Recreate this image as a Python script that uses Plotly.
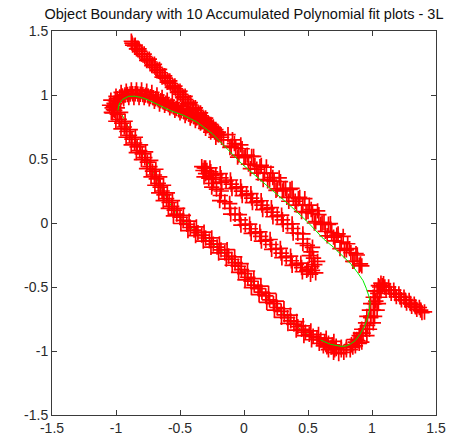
import plotly.graph_objects as go

# Boundary samples (x, y) grouped by the part of the outline they trace
tail_pts = [(-0.88, 1.42), (-0.87, 1.39), (-0.85, 1.39), (-0.84, 1.36), (-0.82, 1.36), (-0.80, 1.32),
            (-0.78, 1.32), (-0.76, 1.27), (-0.74, 1.28), (-0.72, 1.23), (-0.70, 1.24), (-0.68, 1.19),
            (-0.66, 1.20), (-0.64, 1.14), (-0.62, 1.15), (-0.60, 1.10), (-0.58, 1.11), (-0.56, 1.06),
            (-0.54, 1.07), (-0.52, 1.02), (-0.50, 1.03), (-0.48, 0.98), (-0.46, 0.99), (-0.44, 0.93),
            (-0.42, 0.94), (-0.40, 0.89), (-0.38, 0.90), (-0.36, 0.85), (-0.34, 0.86), (-0.32, 0.81),
            (-0.30, 0.82), (-0.28, 0.77), (-0.26, 0.77), (-0.24, 0.73), (-0.22, 0.73), (-0.20, 0.69),
            (-0.18, 0.69), (-0.16, 0.65)]
tail_pts_2 = [(-0.875, 1.405), (-0.855, 1.384), (-0.835, 1.363), (-0.815, 1.342), (-0.795, 1.321),
              (-0.775, 1.300), (-0.755, 1.279), (-0.735, 1.258), (-0.715, 1.237), (-0.695, 1.216),
              (-0.675, 1.195), (-0.655, 1.174), (-0.635, 1.153), (-0.615, 1.132), (-0.595, 1.111),
              (-0.575, 1.090), (-0.555, 1.069), (-0.535, 1.048), (-0.515, 1.027), (-0.495, 1.006),
              (-0.475, 0.985), (-0.455, 0.964), (-0.435, 0.943), (-0.415, 0.922), (-0.395, 0.901),
              (-0.375, 0.880), (-0.355, 0.859), (-0.335, 0.838), (-0.315, 0.817), (-0.295, 0.796),
              (-0.275, 0.775), (-0.255, 0.754), (-0.235, 0.733), (-0.215, 0.712), (-0.195, 0.691),
              (-0.175, 0.670)]

upper_arm_pts = [(-0.20, 0.71), (-0.22, 0.67), (-0.24, 0.75), (-0.26, 0.71), (-0.28, 0.78), (-0.30, 0.74),
                 (-0.32, 0.81), (-0.34, 0.78), (-0.36, 0.84), (-0.38, 0.80), (-0.40, 0.86), (-0.42, 0.82),
                 (-0.44, 0.89), (-0.46, 0.84), (-0.48, 0.91), (-0.50, 0.86), (-0.52, 0.92), (-0.54, 0.88),
                 (-0.56, 0.94), (-0.58, 0.90), (-0.60, 0.96), (-0.62, 0.92), (-0.64, 0.98), (-0.66, 0.93),
                 (-0.68, 1.00), (-0.70, 0.95), (-0.72, 1.02), (-0.74, 0.97), (-0.76, 1.03), (-0.78, 0.98),
                 (-0.80, 1.04), (-0.82, 0.98), (-0.84, 1.04), (-0.86, 0.98), (-0.88, 1.04), (-0.90, 0.98),
                 (-0.92, 1.03), (-0.94, 0.97), (-0.96, 1.02), (-0.98, 0.95), (-1.00, 0.99), (-1.01, 0.93),
                 (-1.04, 0.96), (-1.03, 0.90), (-1.05, 0.92), (-0.99, 0.90), (-1.03, 0.86)]
upper_arm_pts_2 = [(-0.21, 0.695), (-0.23, 0.71), (-0.25, 0.725), (-0.27, 0.743), (-0.29, 0.76),
                   (-0.31, 0.775), (-0.33, 0.79), (-0.35, 0.805), (-0.37, 0.82), (-0.39, 0.83),
                   (-0.41, 0.84), (-0.43, 0.85), (-0.45, 0.86), (-0.47, 0.868), (-0.49, 0.876),
                   (-0.51, 0.885), (-0.53, 0.895), (-0.55, 0.905), (-0.57, 0.915), (-0.59, 0.925),
                   (-0.61, 0.935), (-0.63, 0.945), (-0.65, 0.955), (-0.67, 0.963), (-0.69, 0.971),
                   (-0.71, 0.979), (-0.73, 0.987), (-0.75, 0.993), (-0.77, 0.999), (-0.79, 1.003),
                   (-0.81, 1.006), (-0.83, 1.008), (-0.85, 1.01), (-0.87, 1.01), (-0.89, 1.008),
                   (-0.91, 1.004), (-0.93, 1.0), (-0.95, 0.993), (-0.97, 0.985), (-0.99, 0.972),
                   (-1.005, 0.955), (-1.015, 0.935), (-1.02, 0.91), (-1.02, 0.885)]

lower_arm_pts = [(-1.036, 0.865), (-0.964, 0.865), (-1.001, 0.795), (-0.929, 0.795), (-0.961, 0.735),
                 (-0.889, 0.730), (-0.921, 0.670), (-0.849, 0.670), (-0.881, 0.610), (-0.809, 0.610),
                 (-0.841, 0.550), (-0.769, 0.555), (-0.801, 0.495), (-0.729, 0.490), (-0.761, 0.425),
                 (-0.689, 0.420), (-0.726, 0.360), (-0.659, 0.360), (-0.696, 0.295), (-0.629, 0.295),
                 (-0.666, 0.235), (-0.599, 0.235), (-0.631, 0.175), (-0.559, 0.175), (-0.591, 0.115),
                 (-0.519, 0.115), (-0.551, 0.055), (-0.474, 0.060), (-0.493, -0.004), (-0.429, 0.014),
                 (-0.438, -0.059), (-0.372, -0.031), (-0.378, -0.099), (-0.312, -0.071), (-0.318, -0.141),
                 (-0.252, -0.116), (-0.258, -0.189), (-0.192, -0.164), (-0.198, -0.234), (-0.132, -0.208),
                 (-0.138, -0.282), (-0.073, -0.265), (-0.092, -0.330), (-0.023, -0.318), (-0.042, -0.385),
                 (0.027, -0.375), (0.008, -0.445), (0.077, -0.435), (0.058, -0.505), (0.132, -0.493),
                 (0.118, -0.560), (0.192, -0.550), (0.178, -0.620), (0.252, -0.610), (0.238, -0.680),
                 (0.312, -0.670), (0.293, -0.737), (0.362, -0.720), (0.343, -0.785), (0.412, -0.770),
                 (0.408, -0.837), (0.462, -0.803), (0.468, -0.880), (0.522, -0.843), (0.528, -0.912),
                 (0.582, -0.871), (0.588, -0.940), (0.642, -0.900), (0.648, -0.967), (0.702, -0.925),
                 (0.708, -0.990)]
lower_arm_pts_2 = [(-1.01, 0.88), (-0.99, 0.85), (-0.975, 0.81), (-0.955, 0.78), (-0.935, 0.75),
                   (-0.915, 0.715), (-0.895, 0.685), (-0.875, 0.655), (-0.855, 0.625), (-0.835, 0.595),
                   (-0.815, 0.565), (-0.795, 0.54), (-0.775, 0.51), (-0.755, 0.475), (-0.735, 0.44),
                   (-0.715, 0.405), (-0.70, 0.375), (-0.685, 0.345), (-0.67, 0.31), (-0.655, 0.28),
                   (-0.64, 0.25), (-0.625, 0.22), (-0.605, 0.19), (-0.585, 0.16), (-0.565, 0.13),
                   (-0.545, 0.10), (-0.525, 0.07), (-0.50, 0.045), (-0.475, 0.02), (-0.447, -0.01),
                   (-0.42, -0.035), (-0.39, -0.055), (-0.36, -0.075), (-0.33, -0.095), (-0.30, -0.117),
                   (-0.27, -0.14), (-0.24, -0.165), (-0.21, -0.188), (-0.18, -0.21), (-0.15, -0.232),
                   (-0.12, -0.258), (-0.095, -0.285), (-0.07, -0.31), (-0.045, -0.338), (-0.02, -0.365),
                   (0.005, -0.395), (0.03, -0.425), (0.055, -0.455), (0.08, -0.485), (0.11, -0.513),
                   (0.14, -0.54), (0.17, -0.57), (0.20, -0.60), (0.23, -0.63), (0.26, -0.66),
                   (0.29, -0.69), (0.315, -0.717), (0.34, -0.74), (0.365, -0.765), (0.39, -0.79),
                   (0.42, -0.81), (0.45, -0.83), (0.48, -0.853), (0.51, -0.87), (0.54, -0.885),
                   (0.57, -0.898), (0.60, -0.913), (0.63, -0.927), (0.66, -0.94), (0.69, -0.952),
                   (0.72, -0.963)]

hook_pts = [(0.62, -0.96), (0.66, -0.99), (0.70, -1.01), (0.74, -1.02), (0.78, -1.01), (0.76, -0.97),
            (0.80, -0.97), (0.83, -0.99), (0.84, -0.95), (0.87, -0.96), (0.88, -0.91), (0.90, -0.94),
            (0.87, -0.93), (0.92, -0.93), (0.90, -0.88), (0.96, -0.88), (0.92, -0.83), (0.98, -0.83),
            (0.95, -0.83), (0.95, -0.78), (1.01, -0.78), (0.96, -0.73), (1.02, -0.73), (0.99, -0.73),
            (0.98, -0.68), (1.04, -0.68), (0.99, -0.63), (1.05, -0.63), (1.02, -0.63), (1.01, -0.58),
            (1.06, -0.58), (1.02, -0.53), (1.07, -0.53), (1.04, -0.53), (1.05, -0.49), (1.08, -0.49),
            (1.09, -0.475), (1.11, -0.525), (1.13, -0.50), (1.15, -0.55), (1.17, -0.525), (1.19, -0.575),
            (1.21, -0.555), (1.23, -0.60), (1.25, -0.58), (1.27, -0.625), (1.29, -0.605), (1.31, -0.65),
            (1.33, -0.635), (1.35, -0.675), (1.37, -0.66), (1.39, -0.70), (1.41, -0.695)]
hook_pts_2 = [(0.64, -0.95), (0.68, -0.97), (0.72, -0.98), (0.76, -0.99), (0.80, -0.99), (0.85, -0.97),
              (0.89, -0.92), (0.93, -0.86), (0.965, -0.80), (0.99, -0.74), (1.01, -0.68), (1.03, -0.61),
              (1.045, -0.55), (1.06, -0.50), (1.07, -0.47), (0.86, -0.91), (0.91, -0.86),
              (1.10, -0.50), (1.14, -0.526), (1.18, -0.552), (1.22, -0.578), (1.26, -0.603),
              (1.30, -0.629), (1.34, -0.655), (1.38, -0.68)]

finger_pts = [(-0.266, 0.431), (-0.254, 0.369), (-0.186, 0.386), (-0.174, 0.319), (-0.106, 0.336),
              (-0.094, 0.269), (-0.026, 0.283), (-0.014, 0.214), (0.054, 0.229), (0.066, 0.159),
              (0.134, 0.174), (0.146, 0.105), (0.214, 0.120), (0.226, 0.049), (0.294, 0.061),
              (0.306, -0.011), (0.376, -0.007), (0.384, -0.078), (0.460, -0.085), (0.460, -0.160),
              (0.535, -0.190), (0.510, -0.255), (0.575, -0.300), (0.530, -0.340), (0.560, -0.390),
              (0.520, -0.400), (0.500, -0.360), (0.456, -0.381), (0.444, -0.314), (0.376, -0.331),
              (0.364, -0.259), (0.296, -0.271), (0.284, -0.199), (0.216, -0.206), (0.204, -0.129),
              (0.136, -0.141), (0.124, -0.069), (0.056, -0.081), (0.044, -0.009), (-0.024, -0.016),
              (-0.036, 0.066), (-0.104, 0.069), (-0.112, 0.152), (-0.190, 0.175), (-0.178, 0.250),
              (-0.252, 0.280), (-0.238, 0.340), (-0.312, 0.360), (-0.320, 0.410), (-0.300, 0.430),
              (-0.330, 0.440)]
finger_pts_2 = [(-0.26, 0.40), (-0.22, 0.378), (-0.18, 0.353), (-0.14, 0.328), (-0.10, 0.303),
                (-0.06, 0.276), (-0.02, 0.249), (0.02, 0.222), (0.06, 0.194), (0.10, 0.167),
                (0.14, 0.14), (0.18, 0.113), (0.22, 0.085), (0.26, 0.055), (0.30, 0.025),
                (0.34, -0.008), (0.38, -0.043), (0.42, -0.08), (0.46, -0.125), (0.495, -0.175),
                (0.523, -0.225), (0.543, -0.275), (0.553, -0.325), (0.535, -0.37), (0.49, -0.37),
                (0.45, -0.348), (0.41, -0.323), (0.37, -0.295), (0.33, -0.265), (0.29, -0.235),
                (0.25, -0.203), (0.21, -0.168), (0.17, -0.135), (0.13, -0.105), (0.09, -0.075),
                (0.05, -0.045), (0.01, -0.013), (-0.03, 0.025), (-0.07, 0.068), (-0.11, 0.115),
                (-0.15, 0.165), (-0.185, 0.215), (-0.215, 0.265), (-0.245, 0.31), (-0.275, 0.35),
                (-0.30, 0.385), (-0.29, 0.41), (-0.31, 0.43)]

band_pts = [(-0.125, 0.69), (-0.10, 0.60), (-0.075, 0.62), (-0.05, 0.515), (-0.025, 0.61), (0.0, 0.51),
            (0.025, 0.53), (0.05, 0.425), (0.075, 0.52), (0.10, 0.42), (0.125, 0.44), (0.15, 0.34),
            (0.175, 0.437), (0.20, 0.335), (0.225, 0.355), (0.25, 0.255), (0.275, 0.352), (0.30, 0.25),
            (0.325, 0.27), (0.35, 0.17), (0.375, 0.27), (0.40, 0.17), (0.425, 0.19), (0.45, 0.09),
            (0.475, 0.19), (0.50, 0.09), (0.525, 0.105), (0.55, 0.0), (0.575, 0.095), (0.60, -0.01),
            (0.625, 0.005), (0.65, -0.10), (0.675, -0.005), (0.70, -0.11), (0.725, -0.095), (0.75, -0.20),
            (0.775, -0.105), (0.80, -0.21), (0.825, -0.20), (0.85, -0.30), (0.875, -0.24), (0.90, -0.33),
            (0.92, -0.335)]
band_pts_2 = [(-0.11, 0.59), (-0.09, 0.65), (-0.065, 0.59), (-0.04, 0.53), (-0.015, 0.58), (0.01, 0.52),
              (0.035, 0.46), (0.06, 0.52), (0.085, 0.45), (0.11, 0.39), (0.135, 0.45), (0.16, 0.39),
              (0.185, 0.33), (0.21, 0.39), (0.235, 0.327), (0.26, 0.266), (0.285, 0.323), (0.31, 0.262),
              (0.335, 0.20), (0.36, 0.262), (0.385, 0.20), (0.41, 0.14), (0.435, 0.20), (0.46, 0.142),
              (0.485, 0.08), (0.51, 0.14), (0.535, 0.075), (0.56, 0.01), (0.585, 0.065), (0.61, 0.0),
              (0.635, -0.065), (0.66, -0.01), (0.685, -0.075), (0.71, -0.14), (0.735, -0.085),
              (0.76, -0.15), (0.785, -0.215), (0.81, -0.162), (0.835, -0.232), (0.86, -0.30),
              (0.885, -0.25), (0.91, -0.32)]

# Accumulated polynomial fit curve (upper arm, right side and bottom first; lower arm after)
fit_x = [-0.985, -0.975, -0.95, -0.90, -0.85, -0.80, -0.752, -0.653, -0.576, -0.47, -0.37, -0.25,
         -0.13, -0.011, 0.164, 0.37, 0.50, 0.622, 0.70, 0.775, 0.84, 0.889, 0.93, 0.955, 0.975,
         0.985, 0.98, 0.966, 0.94, 0.905, 0.868, 0.828, 0.79, 0.752, 0.676, 0.60, 0.492, 0.40, 0.30,
         0.20, 0.10, 0.011, -0.06, -0.118, -0.22, -0.317, -0.42, -0.50, -0.56, -0.60, -0.65, -0.70,
         -0.775, -0.84, -0.882, -0.93, -0.958, -0.985]
fit_y = [0.88, 0.93, 0.965, 0.99, 0.99, 0.98, 0.963, 0.917, 0.879, 0.84, 0.79, 0.70,
         0.575, 0.457, 0.305, 0.127, 0.005, -0.125, -0.19, -0.26, -0.325, -0.39, -0.45, -0.51, -0.57,
         -0.62, -0.68, -0.741, -0.81, -0.871, -0.92, -0.948, -0.963, -0.963, -0.948, -0.915, -0.865,
         -0.80, -0.705, -0.60, -0.50, -0.405, -0.33, -0.265, -0.185, -0.11, -0.035, 0.04, 0.12, 0.19,
         0.29, 0.38, 0.52, 0.63, 0.71, 0.80, 0.856, 0.88]
fit_split = 35  # index where the curve enters the lower arm

tick_vals = [-1.5, -1, -0.5, 0, 0.5, 1, 1.5]
tick_text = ["-1.5", "-1", "-0.5", "0", "0.5", "1", "1.5"]

title_text = "Object Boundary with 10 Accumulated Polynomial fit plots - 3L"

boundary = (tail_pts + tail_pts_2 + upper_arm_pts + upper_arm_pts_2 + lower_arm_pts + lower_arm_pts_2
            + hook_pts + hook_pts_2 + finger_pts + finger_pts_2 + band_pts + band_pts_2)
bx = [p[0] for p in boundary]
by = [p[1] for p in boundary]

fit_line = dict(color="rgb(0,235,0)", width=1)

fig = go.Figure()
# lower-arm part of the fit sits under the boundary markers
fig.add_trace(go.Scatter(
    x=fit_x[fit_split:], y=fit_y[fit_split:], mode="lines", line=fit_line, hoverinfo="skip",
))
fig.add_trace(go.Scatter(
    x=bx, y=by, mode="markers",
    marker=dict(symbol="cross-thin", size=11, color="rgb(255,0,0)",
                line=dict(color="rgb(255,0,0)", width=1.7)),
    hoverinfo="skip",
))
# remaining part of the fit drawn over the markers
fig.add_trace(go.Scatter(
    x=fit_x[:fit_split + 1], y=fit_y[:fit_split + 1], mode="lines", line=fit_line, hoverinfo="skip",
))

font_family = "Liberation Sans, Arial, sans-serif"
axis_style = dict(
    range=[-1.5, 1.5], tickvals=tick_vals, ticktext=tick_text,
    showgrid=False, zeroline=False, showline=True, linecolor="#3a3a3a", linewidth=1,
    mirror="ticks", ticks="inside", ticklen=5, tickcolor="#3a3a3a", tickwidth=1,
    tickfont=dict(family=font_family, size=14, color="#2a2a2a"),
)

fig.update_layout(
    width=458, height=448,
    margin=dict(l=52, r=13, t=31, b=26),
    paper_bgcolor="white", plot_bgcolor="white",
    showlegend=False,
    title=dict(text=title_text, x=0.5, xref="paper", y=1 - 14 / 448, yref="container",
               yanchor="middle", font=dict(family=font_family, size=14.5, color="#111111")),
    xaxis=axis_style,
    yaxis=axis_style,
)

fig.write_html("out.html")
